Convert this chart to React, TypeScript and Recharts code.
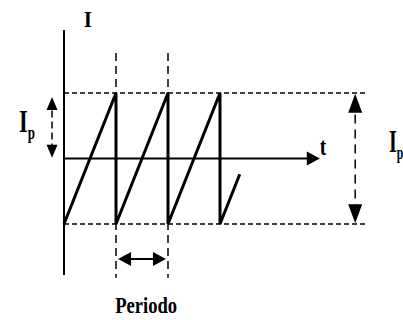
import React from 'react'
import { ComposedChart, Line, Scatter, XAxis, YAxis, ReferenceLine } from 'recharts'

// sawtooth current, time in periods, current in units of Ip/2
const sawTimes = [0, 1, 1, 2, 2, 3, 3, 3.38]
const sawValues = [-1, 1, -1, 1, -1, 1, -1, -0.24]

// arrow heads: position of the tip and direction
const headTimes = [4.92, -0.23, -0.23, 5.6, 5.6, 1.04, 1.96]
const headValues = [0, 0.94, 0.01, 0.99, -0.99, -1.535, -1.535]
const headDirs = ['right', 'up', 'down', 'up', 'down', 'left', 'right']

const labelTexts = ['I', 't', 'I', 'I', 'Periodo']
const labelSubs = ['', '', 'p', 'p', '']
const labelTimes = [0.46, 4.92, -0.865, 6.25, 1.58]
const labelValues = [2.01, 0.06, 0.405, 0.1, -2.36]

const W = 403
const H = 320
const PX_X = 52
const PX_Y = 65.5
const X0 = 64
const Y0 = 158.5

const sawData = sawTimes.map((t, i) => ({ t, v: sawValues[i] }))
const heads = headTimes.map((t, i) => ({ t, v: headValues[i], dir: headDirs[i] }))
const labels = labelTimes.map((t, i) => ({
  t,
  v: labelValues[i],
  text: labelTexts[i],
  sub: labelSubs[i],
}))

const font = '"Liberation Serif", "DejaVu Serif", serif'

function ArrowHead(props: any) {
  const { cx, cy, payload } = props
  const len = payload.t > 5 ? 19 : 13
  const half = payload.t > 5 ? 7 : payload.dir === 'up' || payload.dir === 'down' ? 5.5 : 7
  let pts = ''
  if (payload.dir === 'right') pts = `${cx},${cy} ${cx - len},${cy - half} ${cx - len},${cy + half}`
  if (payload.dir === 'left') pts = `${cx},${cy} ${cx + len},${cy - half} ${cx + len},${cy + half}`
  if (payload.dir === 'up') pts = `${cx},${cy} ${cx - half},${cy + len} ${cx + half},${cy + len}`
  if (payload.dir === 'down') pts = `${cx},${cy} ${cx - half},${cy - len} ${cx + half},${cy - len}`
  return <polygon points={pts} fill="#000" />
}

function TextMark(props: any) {
  const { cx, cy, payload } = props
  let size = 21
  let sx = 1
  let sy = 1.05
  let anchor = 'middle'
  if (payload.text === 'Periodo') {
    size = 20
    sx = 0.93
    sy = 1.15
  } else if (payload.text === 't') {
    size = 23
    sx = 0.85
    anchor = 'start'
  } else if (payload.sub) {
    size = 28
    sx = payload.t > 5 ? 0.72 : 0.8
    sy = 1.1
    anchor = 'start'
  }
  return (
    <text
      x={0}
      y={0}
      transform={`translate(${cx},${cy}) scale(${sx},${sy})`}
      style={{ fontFamily: font, fontWeight: 'bold' }}
      fontSize={size}
      textAnchor={anchor}
      fill="#000"
    >
      {payload.text}
      {payload.sub && (
        <tspan fontSize={size * 0.58} dy={6}>
          {payload.sub}
        </tspan>
      )}
    </text>
  )
}

export default function App() {
  const xDomain = [-X0 / PX_X, (W - X0) / PX_X]
  const yDomain = [-(H - Y0) / PX_Y, Y0 / PX_Y]

  return (
    <div style={{ position: 'absolute', left: 0, top: 0, width: W, height: H, background: '#fff' }}>
      <ComposedChart width={W} height={H} data={sawData} margin={{ top: 0, right: 0, bottom: 0, left: 0 }}>
        <XAxis type="number" dataKey="t" domain={xDomain} hide allowDataOverflow />
        <YAxis type="number" dataKey="v" domain={yDomain} hide allowDataOverflow />

        {/* axes */}
        <ReferenceLine segment={[{ x: 0, y: -1.78 }, { x: 0, y: 1.96 }]} stroke="#000" strokeWidth={2} ifOverflow="visible" />
        <ReferenceLine segment={[{ x: 0, y: 0 }, { x: 4.7, y: 0 }]} stroke="#000" strokeWidth={2} ifOverflow="visible" />

        {/* peak levels */}
        <ReferenceLine segment={[{ x: 0, y: 1 }, { x: 5.83, y: 1 }]} stroke="#000" strokeWidth={1.5} strokeDasharray="5 3" ifOverflow="visible" />
        <ReferenceLine segment={[{ x: 0, y: -1 }, { x: 5.83, y: -1 }]} stroke="#000" strokeWidth={1.5} strokeDasharray="5 3" ifOverflow="visible" />

        {/* period markers */}
        <ReferenceLine segment={[{ x: 1, y: 1.61 }, { x: 1, y: -1.82 }]} stroke="#000" strokeWidth={1.5} strokeDasharray="8 5" ifOverflow="visible" />
        <ReferenceLine segment={[{ x: 2, y: 1.61 }, { x: 2, y: -1.82 }]} stroke="#000" strokeWidth={1.5} strokeDasharray="8 5" ifOverflow="visible" />

        {/* Ip arrows */}
        <ReferenceLine segment={[{ x: -0.23, y: 0.9 }, { x: -0.23, y: 0.05 }]} stroke="#000" strokeWidth={1.5} strokeDasharray="7 4" ifOverflow="visible" />
        <ReferenceLine segment={[{ x: 5.6, y: 0.9 }, { x: 5.6, y: -0.9 }]} stroke="#000" strokeWidth={1.5} strokeDasharray="9 6" ifOverflow="visible" />

        {/* period arrow */}
        <ReferenceLine segment={[{ x: 1.1, y: -1.535 }, { x: 1.9, y: -1.535 }]} stroke="#000" strokeWidth={2} ifOverflow="visible" />

        <Line
          type="linear"
          dataKey="v"
          stroke="#000"
          strokeWidth={3}
          dot={false}
          activeDot={false}
          strokeLinejoin="miter"
          isAnimationActive={false}
        />
        <Scatter data={heads} dataKey="v" shape={ArrowHead} isAnimationActive={false} />
        <Scatter data={labels} dataKey="v" shape={TextMark} isAnimationActive={false} />
      </ComposedChart>
    </div>
  )
}
